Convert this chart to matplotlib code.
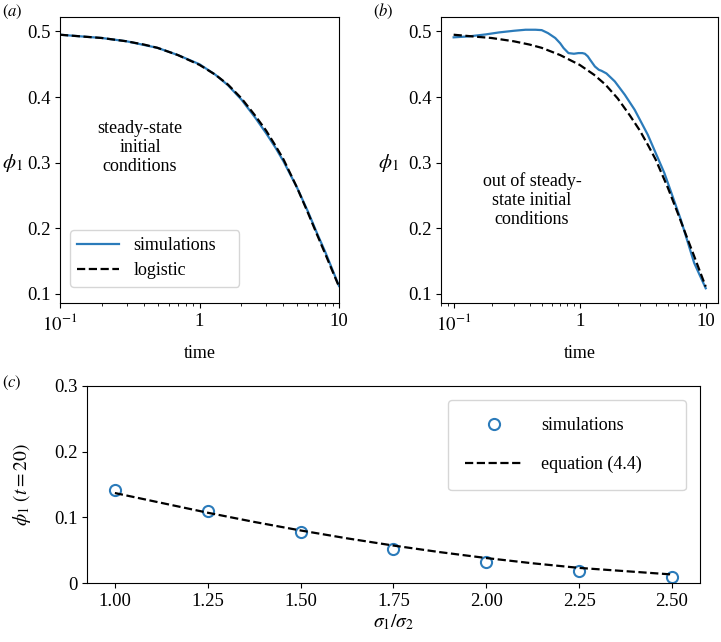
import matplotlib
matplotlib.use("Agg")
import matplotlib.pyplot as plt
import numpy as np

plt.rcParams['font.family'] = ['Liberation Serif', 'DejaVu Serif']
plt.rcParams['mathtext.fontset'] = 'stix'
plt.rcParams['font.size'] = 13
plt.rcParams['xtick.labelsize'] = 13.5
plt.rcParams['ytick.labelsize'] = 13.5

# logistic curve (panels a and b)
t_log = [0.1, 0.15, 0.2, 0.3, 0.4, 0.5, 0.7, 1.0, 1.3, 1.6, 2.0, 2.5, 3.0,
         3.5, 4.0, 5.0, 6.0, 7.0, 8.0, 9.0, 10.0]
phi_log = [0.495, 0.492, 0.490, 0.485, 0.480, 0.475, 0.464, 0.449, 0.434,
           0.419, 0.398, 0.372, 0.349, 0.326, 0.305, 0.262, 0.223, 0.189,
           0.160, 0.134, 0.111]

# simulations, steady-state initial conditions (panel a)
t_sim_a = [0.1, 0.2, 0.3, 0.5, 0.7, 1.0, 1.3, 1.6, 2.0, 2.5, 3.0, 3.5, 4.0,
           5.0, 6.0, 7.0, 8.0, 9.0, 10.0]
phi_sim_a = [0.495, 0.490, 0.485, 0.475, 0.464, 0.450, 0.434, 0.418, 0.396,
             0.369, 0.345, 0.323, 0.302, 0.262, 0.225, 0.191, 0.163, 0.136,
             0.112]

# simulations, out of steady-state initial conditions (panel b)
t_sim_b = [0.1, 0.133, 0.18, 0.229, 0.3, 0.372, 0.446, 0.5, 0.56, 0.64, 0.7,
           0.745, 0.815, 0.9, 0.977, 1.05, 1.1, 1.16, 1.21, 1.32, 1.42, 1.49,
           1.63, 1.9, 2.28, 2.73, 3.47, 4.7, 6.35, 8.1, 10.0]
phi_sim_b = [0.491, 0.4925, 0.4955, 0.4985, 0.501, 0.5026, 0.5026, 0.502,
             0.4975, 0.490, 0.482, 0.4747, 0.467, 0.466, 0.467, 0.467, 0.466,
             0.462, 0.4568, 0.4466, 0.4415, 0.440, 0.436, 0.4238, 0.4035,
             0.3806, 0.3425, 0.284, 0.2128, 0.147, 0.1085]

# panel c
ratio_pts = [1.00, 1.25, 1.50, 1.75, 2.00, 2.25, 2.50]
phi_pts = [0.142, 0.110, 0.077, 0.052, 0.032, 0.018, 0.009]
ratio_eq = [1.00, 1.125, 1.25, 1.375, 1.50, 1.625, 1.75, 1.875, 2.00, 2.125,
            2.25, 2.375, 2.50]
phi_eq = [0.137, 0.122, 0.107, 0.093, 0.080, 0.068, 0.057, 0.047, 0.038,
          0.030, 0.023, 0.018, 0.013]

blue = '#2b7bba'

fig = plt.figure(figsize=(7.21, 6.42), dpi=100)
ax_a = fig.add_axes([0.0832, 0.528, 0.387, 0.4455])
ax_b = fig.add_axes([0.6117, 0.528, 0.3846, 0.4455])
ax_c = fig.add_axes([0.1207, 0.0919, 0.850, 0.3069])

## PANEL A
ax_a.plot(t_sim_a, phi_sim_a, color=blue, lw=1.6, label='simulations')
ax_a.plot(t_log, phi_log, 'k--', lw=1.6, label='logistic')
ax_a.set_xscale('log')
ax_a.set_xlim(0.1, 10)
ax_a.text(0.287, 0.545, 'steady-state\ninitial\nconditions', transform=ax_a.transAxes,
          ha='center', va='center', linespacing=1.15)
ax_a.legend(loc='upper left', bbox_to_anchor=(0.036, 0.255, 0.606, 0.0), mode='expand',
            borderaxespad=0, handlelength=2.3, handletextpad=0.8, labelspacing=0.45)

## PANEL B
ax_b.plot(t_sim_b, phi_sim_b, color=blue, lw=1.6)
ax_b.plot(t_log, phi_log, 'k--', lw=1.6)
ax_b.set_xscale('log')
ax_b.set_xlim(10 ** -1.1, 10 ** 1.1)
ax_b.text(0.328, 0.36, 'out of steady-\nstate initial\nconditions', transform=ax_b.transAxes,
          ha='center', va='center', linespacing=1.15)

for ax, lx in [(ax_a, -0.172), (ax_b, -0.19)]:
    ax.set_ylim(0.086, 0.522)
    ax.set_yticks([0.1, 0.2, 0.3, 0.4, 0.5])
    ax.set_yticklabels(['0.1', '0.2', '0.3', '0.4', '0.5'])
    ax.set_xticks([0.1, 1, 10])
    ax.set_xticklabels([r'$10^{-1}$', '1', '10'])
    ax.set_xlabel('time', labelpad=8)
    ax.set_ylabel(r'$\phi_1$', rotation=0, ha='center', va='center', fontsize=15)
    ax.yaxis.set_label_coords(lx, 0.49)

fig.text(0.003, 0.982, r'$(a)$', ha='left', va='center', fontsize=12)
fig.text(0.517, 0.982, r'$(b)$', ha='left', va='center', fontsize=12)
fig.text(0.003, 0.403, r'$(c)$', ha='left', va='center', fontsize=12)

## PANEL C
ax_c.plot(ratio_pts, phi_pts, 'o', mfc='none', mec=blue, mew=1.5, ms=8,
          label='simulations')
ax_c.plot(ratio_eq, phi_eq, 'k--', lw=1.6, label='equation (4.4)')
ax_c.set_ylim(0, 0.3)
ax_c.set_yticks([0, 0.1, 0.2, 0.3])
ax_c.set_yticklabels(['0', '0.1', '0.2', '0.3'])
ax_c.set_xticks(ratio_pts)
ax_c.set_xlabel(r'$\sigma_1/\sigma_2$', labelpad=2, fontsize=14)
ax_c.set_ylabel(r'$\phi_1\ (t = 20)$', fontsize=14)
ax_c.yaxis.set_label_coords(-0.088, 0.5)
ax_c.legend(loc='upper left', bbox_to_anchor=(0.589, 0.929, 0.388, 0.0), mode='expand',
            borderaxespad=0, handlelength=3.2, handletextpad=1.0, labelspacing=1.2,
            borderpad=0.95)

fig.savefig('out.png', dpi=100)
